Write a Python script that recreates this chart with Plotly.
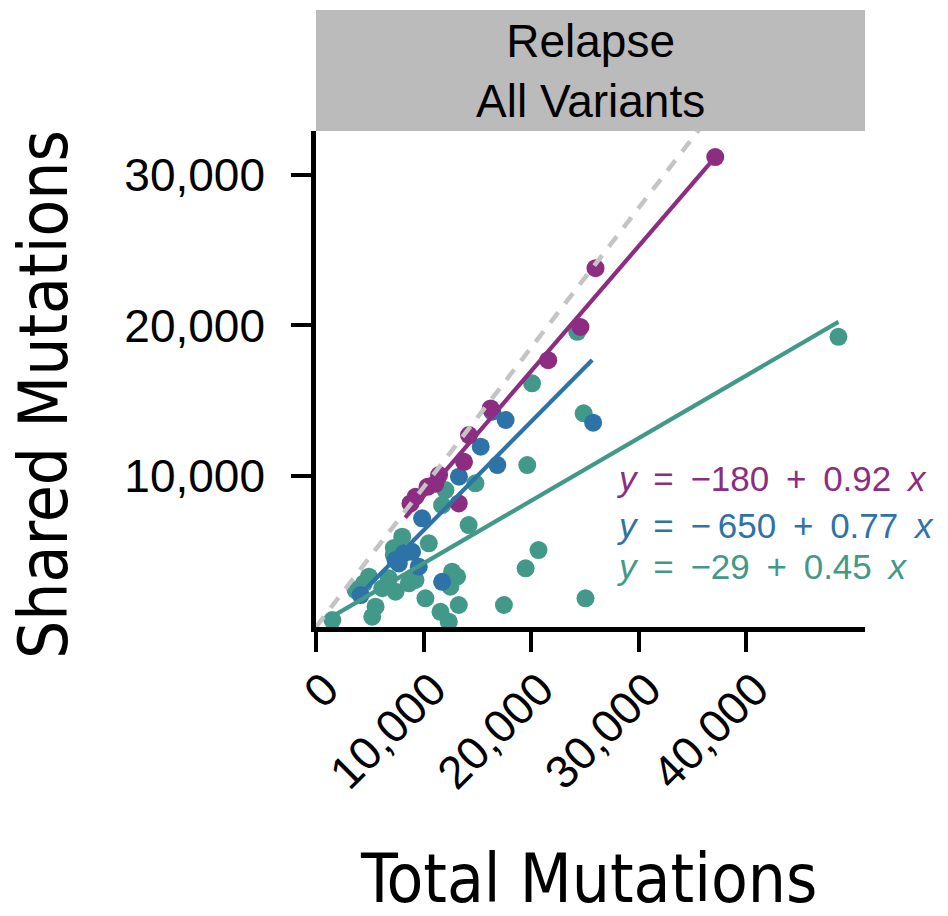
import plotly.graph_objects as go

# ---- data ----
purple_x = [37140, 26000, 24600, 21600, 16250, 14230, 13770, 11450, 10370, 9260, 8790, 13280, 11100]
purple_y = [31170, 23800, 19900, 17700, 14500, 12730, 10960, 10080, 9300, 8640, 8200, 8200, 9500]

blue_x = [25780, 17640, 16400, 15320, 16870, 13300, 9870, 8170, 7700, 8940, 9560, 7400, 11730, 4150]
blue_y = [13550, 13730, 14280, 11960, 10740, 9970, 7210, 4890, 4220, 4990, 4000, 4440, 3000, 2120]

teal_x = [48600, 24900, 20100, 24300, 19650, 14200, 10490, 8020, 7240, 12660, 13120, 12500,
          10180, 13280, 11580, 12350, 5230, 1520, 4920, 3680, 5540, 7400, 8640, 9260, 6780,
          6160, 12040, 11730, 14830, 20700, 19500, 17480, 25070, 7240, 4460]
teal_y = [19250, 14170, 16160, 19580, 10740, 6760, 5550, 5990, 4770, 3670, 3340, 2670,
          1900, 1460, 1010, 350, 680, 460, 3340, 2450, 1350, 2340, 2900, 3120, 3230,
          2570, 9080, 8090, 9530, 5100, 3890, 1460, 1900, 5240, 2900]

# visual fit lines: intercept, slope, x extent
purple_fit = dict(b=380, m=0.829, xmin=8300, xmax=37140)
blue_fit = dict(b=-790, m=0.72, xmin=3800, xmax=25690)
teal_fit = dict(b=70, m=0.415, xmin=930, xmax=48600)
identity_fit = dict(b=0, m=0.926, xmin=0, xmax=40000)

SP = " \u2009"
TH = "\u2009"
equations = [f"<i>y</i>{SP}={SP}\u2212180{SP}+{SP}0.92{SP}<i>x</i>",
             f"<i>y</i>{SP}={SP}\u2212{TH}650{SP}+{SP}0.77{SP}<i>x</i>",
             f"<i>y</i>{SP}={SP}\u221229{SP}+{SP}0.45{SP}<i>x</i>"]

x_ticks = [0, 10000, 20000, 30000, 40000]
y_ticks = [10000, 20000, 30000]

PURPLE = "#8C2D82"
BLUE = "#2E73A8"
TEAL = "#42998A"
GRAY = "#C4C4C4"

FONT = "Liberation Sans, Arial, sans-serif"
NARROW = "DejaVu Sans Condensed, sans-serif"

fig = go.Figure()

for xs, ys, c in [(teal_x, teal_y, TEAL), (blue_x, blue_y, BLUE), (purple_x, purple_y, PURPLE)]:
    fig.add_trace(go.Scatter(x=xs, y=ys, mode="markers",
                             marker=dict(size=18, color=c, line=dict(width=0)),
                             showlegend=False))

def fit_line(f):
    xs = [f["xmin"], f["xmax"]]
    ys = [f["b"] + f["m"] * v for v in xs]
    return xs, ys

xs, ys = fit_line(identity_fit)
fig.add_trace(go.Scatter(x=xs, y=ys, mode="lines",
                         line=dict(color=GRAY, width=4.5, dash="13px,11px"),
                         showlegend=False))
for f, c in [(purple_fit, PURPLE), (blue_fit, BLUE), (teal_fit, TEAL)]:
    xs, ys = fit_line(f)
    fig.add_trace(go.Scatter(x=xs, y=ys, mode="lines",
                             line=dict(color=c, width=4.2), showlegend=False))

# page has an 8px body margin: figure coords = page coords - 8
fig.update_layout(
    width=940, height=908, autosize=False,
    margin=dict(l=308, r=83, t=123, b=289),
    paper_bgcolor="white", plot_bgcolor="white",
    font=dict(family=FONT, color="black"),
    xaxis=dict(range=[0, 51070], tickvals=x_ticks,
               ticktext=[f"{v:,}" for v in x_ticks], tickangle=-45,
               ticks="outside", ticklen=20, tickwidth=4, tickcolor="black",
               showline=True, linewidth=4.5, linecolor="black",
               showgrid=False, zeroline=False,
               ticklabelshift=9, ticklabelstandoff=-8,
               tickfont=dict(size=46, family=FONT, color="black")),
    yaxis=dict(range=[0, 32900], tickvals=y_ticks,
               ticktext=[f"{v:,}" for v in y_ticks],
               ticks="outside", ticklen=20, tickwidth=4, tickcolor="black",
               showline=True, linewidth=4.5, linecolor="black",
               showgrid=False, zeroline=False, ticklabelstandoff=17,
               tickfont=dict(size=46, family=FONT, color="black")),
)

# facet strip
fig.add_shape(type="rect", xref="paper", yref="paper", x0=0, x1=1, y0=1.0, y1=1 + 121 / 496,
              fillcolor="#BBBBBB", line=dict(width=0), layer="below")
fig.add_annotation(xref="paper", yref="paper", x=0.5, y=1 + 60 / 496, text="Relapse<br>All Variants",
                   showarrow=False, font=dict(size=46, family=FONT, color="black"),
                   xanchor="center", yanchor="middle", align="center")

# axis titles
fig.add_annotation(xref="paper", yref="paper", x=0.497, y=-252 / 496, text="Total Mutations",
                   showarrow=False, font=dict(size=67, family=NARROW, color="black"),
                   xanchor="center", yanchor="middle")
fig.add_annotation(xref="paper", yref="paper", x=-272 / 549, y=(627 - 395) / 496, text="Shared Mutations",
                   showarrow=False, textangle=-90, font=dict(size=67, family=NARROW, color="black"),
                   xanchor="center", yanchor="middle")

# equations
for txt, c, py in zip(equations, [PURPLE, BLUE, TEAL], [478, 525, 566]):
    fig.add_annotation(xref="paper", yref="paper", x=(615 - 316) / 549, y=(627 - py) / 496,
                       text=txt, showarrow=False, xanchor="left", yanchor="middle",
                       font=dict(size=35, family=FONT, color=c))

fig.write_html("out.html")
